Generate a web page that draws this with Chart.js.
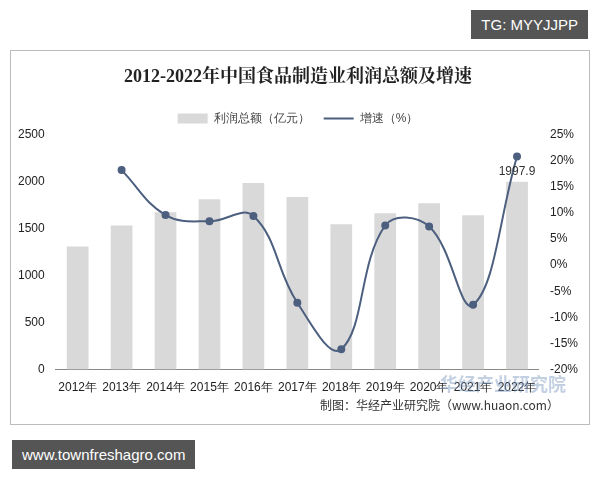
<!DOCTYPE html>
<html><head><meta charset="utf-8">
<script src="https://cdn.jsdelivr.net/npm/chart.js@4"></script>
<style>
body{margin:0;width:600px;height:480px;background:#fff;position:relative;overflow:hidden;font-family:"Noto Sans CJK SC",sans-serif}
#frame{position:absolute;left:10px;top:50px;width:578px;height:373px;border:1px solid #bbb;background:#fff}
#tg{position:absolute;right:12px;top:10px;background:#555;color:#fff;font:15px "Liberation Sans",sans-serif;padding:6px 10px}
#www{position:absolute;left:12px;top:440px;background:#555;color:#fff;font:15px "Liberation Sans",sans-serif;padding:6px 10px}
#src{position:absolute;left:320px;top:396px;font-size:12px;color:#333}
#wm{position:absolute;left:440px;top:370px;font-size:18px;color:rgba(120,150,190,0.45);font-weight:bold}
</style></head><body>
<div id="tg">TG: MYYJJPP</div>
<div id="frame"><canvas id="c" width="578" height="347"></canvas></div>
<div id="wm">华经产业研究院</div>
<div id="src">制图：华经产业研究院（www.huaon.com）</div>
<div id="www">www.townfreshagro.com</div>
<script>
const categories=["2012年","2013年","2014年","2015年","2016年","2017年","2018年","2019年","2020年","2021年","2022年"];
const profit=[1309,1534,1674,1813,1985,1835,1545,1663,1770,1642,1997.9];
const growth=[null,18.2,9.6,8.4,9.4,-7.2,-16.1,7.6,7.4,-7.6,20.8];
const labelPlugin={id:'lbl',afterDatasetsDraw(ch){const m=ch.getDatasetMeta(0);const p=m.data[10];const c=ch.ctx;c.save();c.font='12px "Liberation Sans",sans-serif';c.fillStyle='#333';c.textAlign='center';c.fillText('1997.9',p.x,p.y-10);c.restore();}};
new Chart(document.getElementById('c'),{
data:{labels:categories,datasets:[
{type:'bar',label:'利润总额（亿元）',data:profit,backgroundColor:'#d9d9d9',yAxisID:'y',barPercentage:0.55,categoryPercentage:0.9,order:2},
{type:'line',label:'增速（%）',data:growth,borderColor:'#4d5f7f',backgroundColor:'#4d5f7f',borderWidth:2,tension:0.4,pointRadius:3,pointStyle:'circle',yAxisID:'y1',order:1}
]},
plugins:[labelPlugin],
options:{responsive:false,animation:false,layout:{padding:{left:4,right:8,top:6}},
plugins:{title:{display:true,text:'2012-2022年中国食品制造业利润总额及增速',font:{size:18,weight:'bold',family:'"Liberation Serif","Noto Serif CJK SC","Noto Sans CJK SC"'},color:'#222',padding:{top:10,bottom:10}},
legend:{labels:{padding:14,usePointStyle:true,generateLabels(ch){return [{text:'利润总额（亿元）',fillStyle:'#d9d9d9',strokeStyle:'#d9d9d9',pointStyle:'rect',datasetIndex:0,lineWidth:0,fontColor:'#444'},{text:'增速（%）',fillStyle:'#4d5f7f',strokeStyle:'#4d5f7f',pointStyle:'line',datasetIndex:1,lineWidth:2,fontColor:'#444'}];},pointStyleWidth:30,boxHeight:10,font:{size:12},color:'#444'}},tooltip:{enabled:false}},
scales:{x:{grid:{display:false},ticks:{color:'#222',font:{size:12},maxRotation:0,autoSkip:false},border:{color:'#888'}},
y:{min:0,max:2500,ticks:{stepSize:500,color:'#222',font:{size:12},callback:v=>String(v)},grid:{display:false},border:{display:false}},
y1:{position:'right',min:-20,max:25,ticks:{stepSize:5,color:'#222',font:{size:12},callback:v=>v+'%'},grid:{display:false},border:{display:false}}}}
});
</script></body></html>
